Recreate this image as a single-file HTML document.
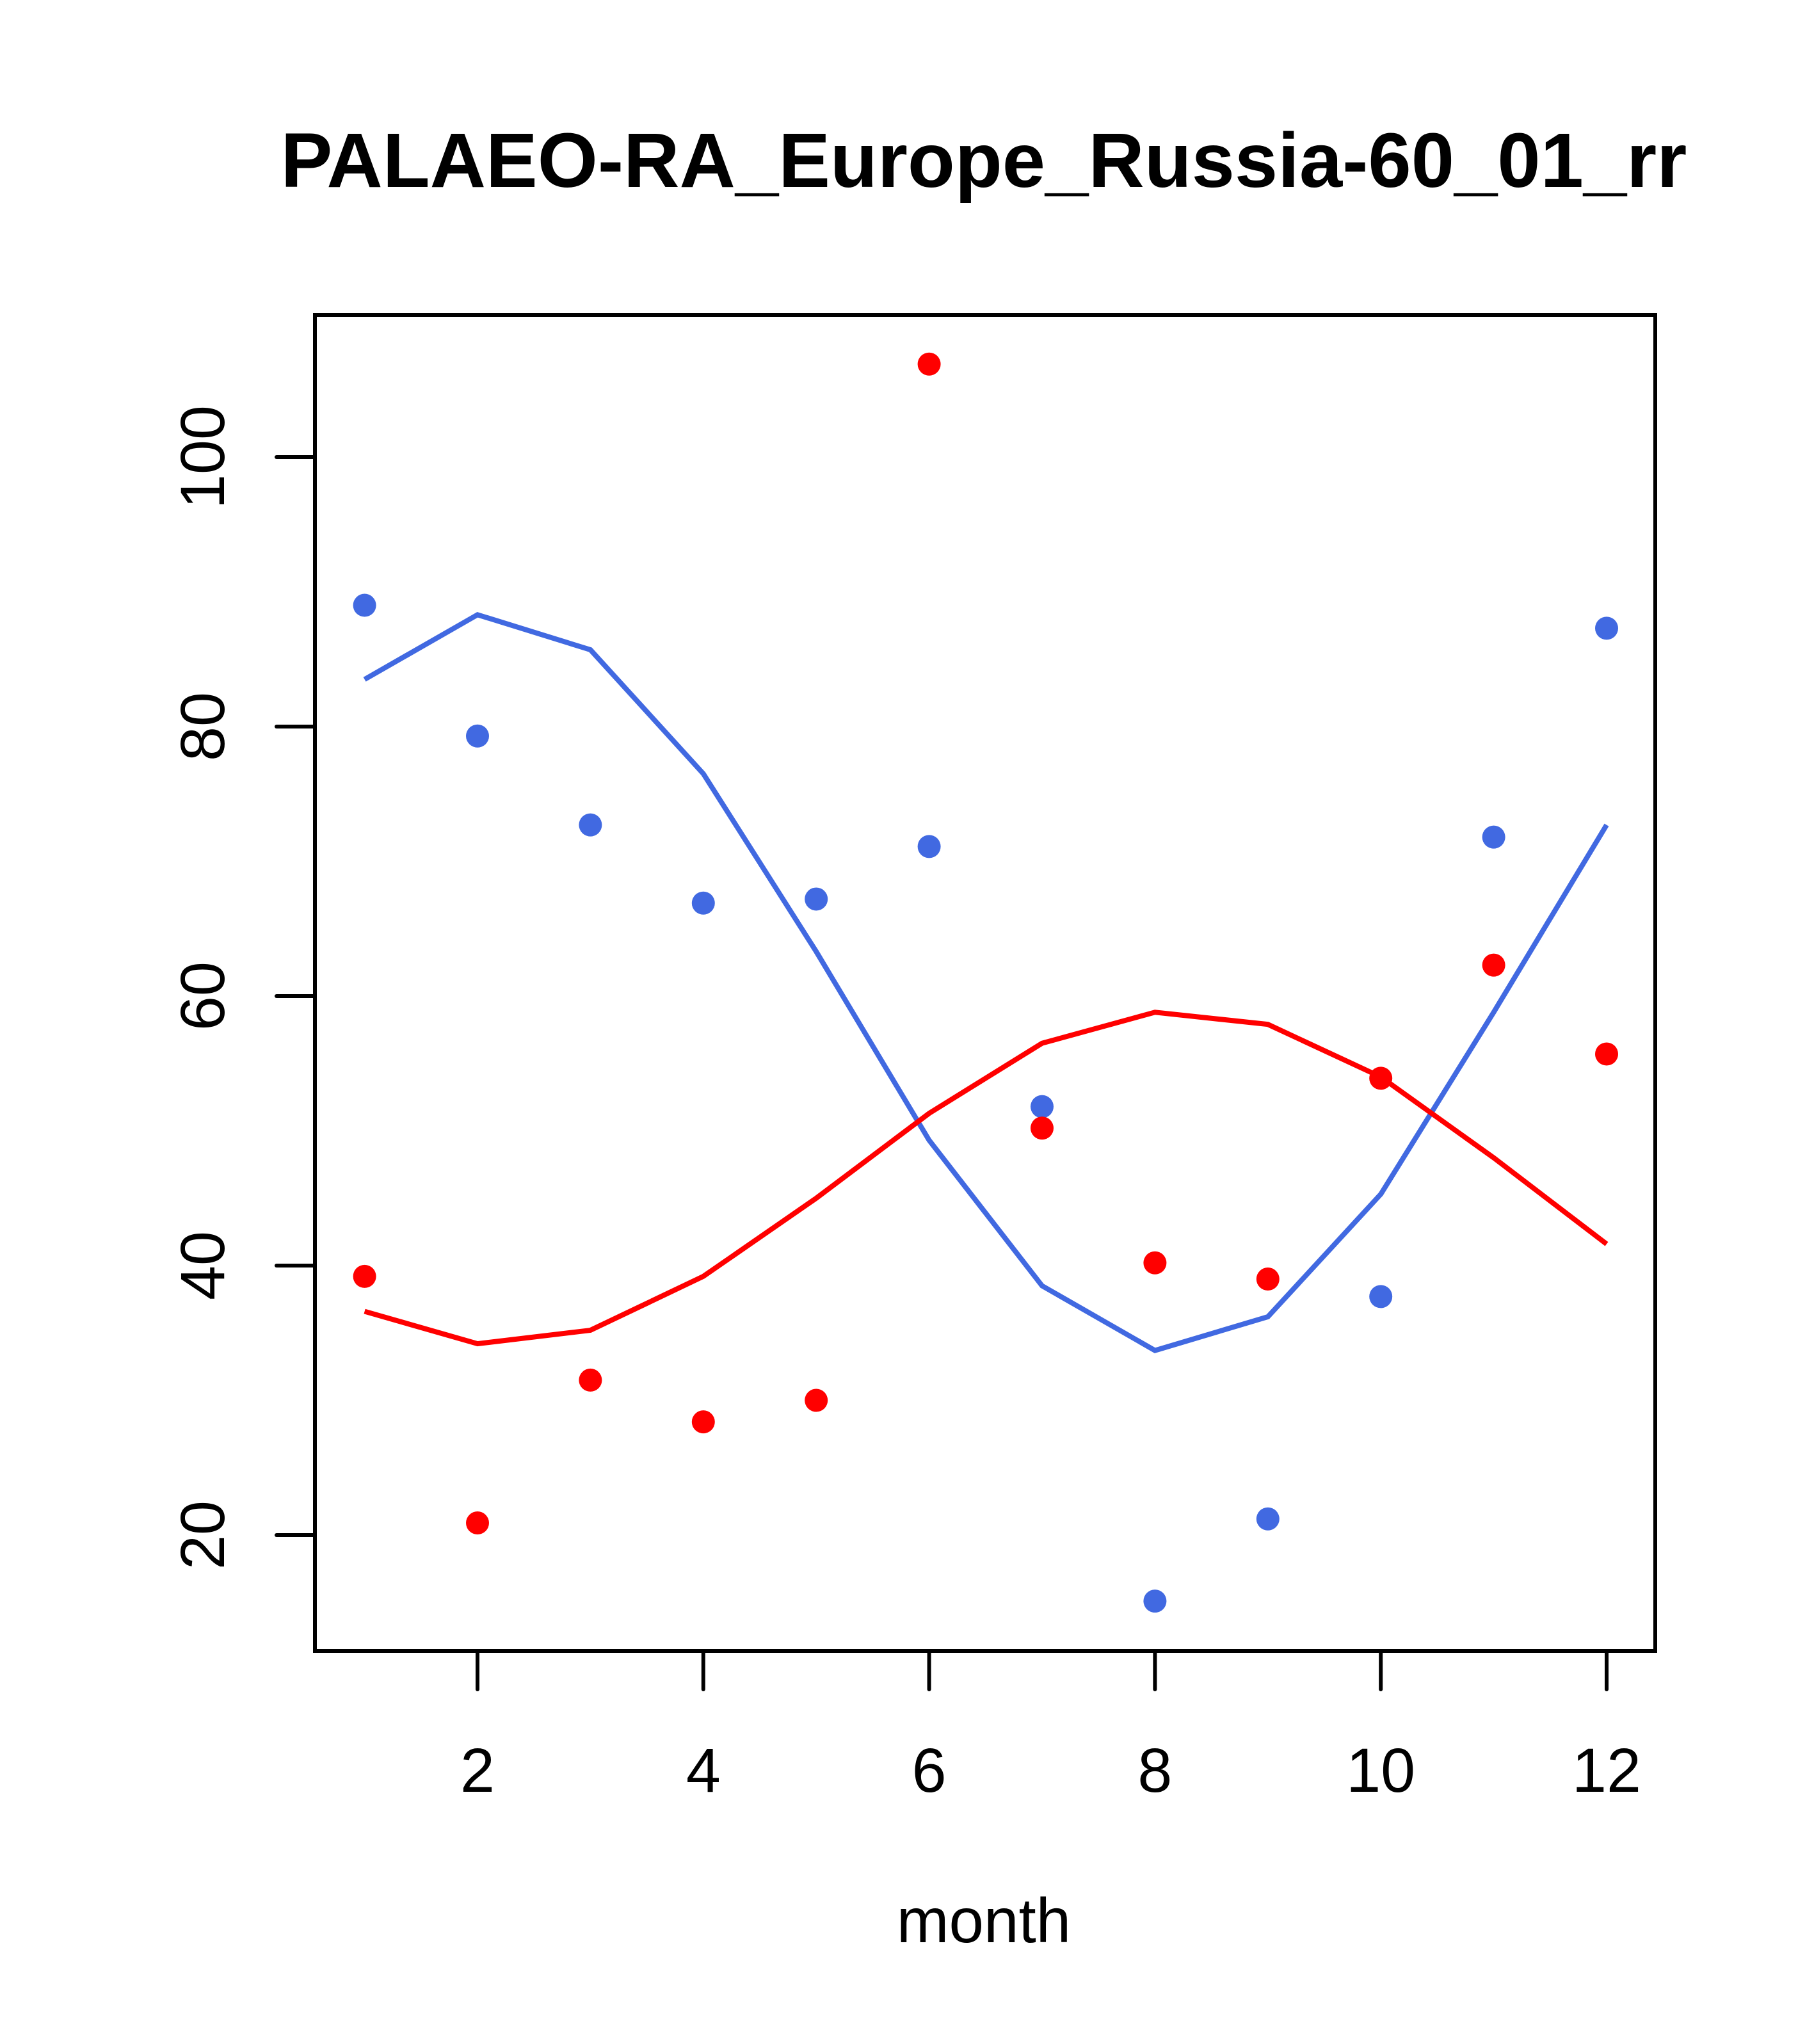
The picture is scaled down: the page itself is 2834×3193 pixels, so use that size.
<!DOCTYPE html>
<html><head><meta charset="utf-8"><style>html,body{margin:0;padding:0;background:#fff}</style></head>
<body>
<svg id="chart" width="2834" height="3188" xmlns="http://www.w3.org/2000/svg" font-family="Liberation Sans, sans-serif">
<rect width="2834" height="3188" fill="#fff"/>
<text x="1537" y="292" font-size="121" font-weight="bold" text-anchor="middle">PALAEO-RA_Europe_Russia-60_01_rr</text>
<rect x="492" y="492" width="2094" height="2087" fill="none" stroke="#000" stroke-width="6"/>
<g id="xaxis"></g>
<g id="yaxis"></g>
<text x="1537" y="3034" font-size="98" text-anchor="middle">month</text>
<g id="series"></g>
</svg>
<script>
const months=[1,2,3,4,5,6,7,8,9,10,11,12];
const bluePoints=[89,79.3,72.7,66.9,67.2,71.1,51.8,15.1,21.2,37.7,71.8,87.3];
const redPoints=[39.2,20.9,31.5,28.4,30.0,106.9,50.2,40.2,39.0,53.9,62.3,55.7];
const blueLine=[83.5,88.3,85.7,76.5,63.3,49.3,38.5,33.7,36.2,45.3,58.8,72.7];
const redLine=[36.6,34.2,35.2,39.2,45.0,51.3,56.5,58.8,57.9,54.0,48.0,41.6];
const xTicks=[2,4,6,8,10,12];
const yTicks=[20,40,60,80,100];
const NS="http://www.w3.org/2000/svg";
const X=m=>746+(m-2)*(2510-746)/10;
const Y=v=>714+(100-v)*(2398-714)/80;
function mk(tag,attrs,parent){const e=document.createElementNS(NS,tag);for(const k in attrs)e.setAttribute(k,attrs[k]);parent.appendChild(e);return e;}
const xa=document.getElementById('xaxis'),ya=document.getElementById('yaxis'),sr=document.getElementById('series');
mk('line',{x1:X(2),x2:X(12),y1:2579,y2:2579,stroke:'#000','stroke-width':6},xa);
xTicks.forEach(t=>{
 const l=mk('line',{x1:X(t),x2:X(t),y1:2579,y2:2639,stroke:'#000','stroke-width':6,'stroke-linecap':'round'},xa);
 
 
 const tx=mk('text',{x:X(t),y:2799,'font-size':97,'text-anchor':'middle'},xa);tx.textContent=t;
 
 
});
yTicks.forEach(t=>{
 const l=mk('line',{x1:432,x2:492,y1:Y(t),y2:Y(t),stroke:'#000','stroke-width':6,'stroke-linecap':'round'},ya);
 
 
 const tx=mk('text',{x:0,y:0,'font-size':97,'text-anchor':'middle',transform:`translate(350,${Y(t)}) rotate(-90)`},ya);tx.textContent=t;
 
 
});
function line(vals,color,name){
 const p=mk('polyline',{points:vals.map((v,i)=>X(months[i])+','+Y(v)).join(' '),fill:'none',stroke:color,'stroke-width':8},sr);
 
 
}
function pts(vals,color,name){
 vals.forEach((v,i)=>{
  const c=mk('circle',{cx:X(months[i]),cy:Y(v),r:18,fill:color},sr);
  
  
 });
}
line(blueLine,'#4169E1','blue-line');
line(redLine,'#FF0000','red-line');
pts(bluePoints,'#4169E1','blue-point');
pts(redPoints,'#FF0000','red-point');
</script>
</body></html>
